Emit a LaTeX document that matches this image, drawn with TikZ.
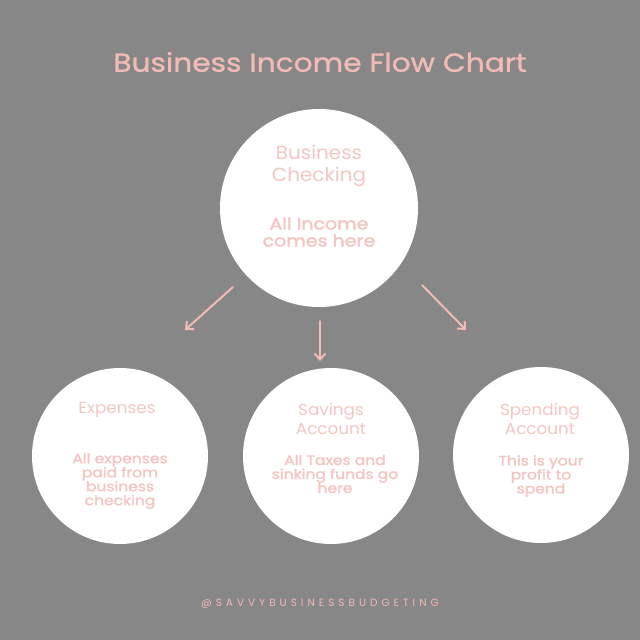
\documentclass[tikz,border=0pt]{standalone}
\usepackage{fontspec}
\setmainfont{Poppins}
\newfontfamily\titlefont[FakeStretch=1.14, FakeBold=1]{Poppins}
\newfontfamily\headfont[FakeStretch=1.05]{Poppins}
\newfontfamily\descfont[FakeStretch=1.15, FakeBold=2]{Poppins}
\usetikzlibrary{arrows.meta}
\definecolor{bggrey}{HTML}{878787}
\definecolor{blush}{HTML}{F2BBB6}
\definecolor{blushlight}{HTML}{F3C6C2}
\begin{document}
\begin{tikzpicture}[x=1pt,y=-1pt]
\tikzstyle{every node}+=[inner sep=0pt]
\tikzstyle{acct}=[circle, fill=white, minimum size=176pt]
\tikzstyle{bighead}=[text=blushlight, align=center, font=\headfont\fontsize{19}{22}\selectfont]
\tikzstyle{bigdesc}=[text=blushlight, align=center, font=\descfont\fontsize{16.5}{17}\selectfont]
\tikzstyle{head}=[text=blushlight, align=center, font=\headfont\fontsize{16}{19}\selectfont]
\tikzstyle{desc}=[text=blushlight, align=center, font=\descfont\fontsize{13.5}{14}\selectfont]
\tikzstyle{flow}=[draw=blush, line width=2pt, line cap=round, -{Straight Barb[length=6pt,width=11pt]}]
\fill [bggrey] (0,0) rectangle (640,640);
\node (title) at (320,62) [text=blush, font=\titlefont\fontsize{26}{30}\selectfont] {Business Income Flow Chart};
% accounts
\node [acct, minimum size=198pt] (checking) at (319,208) {};
\node [acct] (expenses) at (120,456) {};
\node [acct] (savings) at (331,456) {};
\node [acct] (spending) at (541,455) {};
% texts
\node [bighead] (checkinghead) at (319,166) {Business\\Checking};
\node [bigdesc] (checkingdesc) at (319,232) {All Income\\comes here};
\node [head] (expenseshead) at (117,410) {Expenses};
\node [desc] (expensesdesc) at (120,481) {All expenses\\paid from\\business\\checking};
\node [head] (savingshead) at (331,419) {Savings\\Account};
\node [desc] (savingsdesc) at (335,474) {All Taxes and\\sinking funds go\\here};
\node [head] (spendinghead) at (540,419) {Spending\\Account};
\node [desc] (spendingdesc) at (541,476) {This is your\\profit to\\spend};
% arrows
\coordinate (lefttail) at (233,287);
\coordinate (lefttip) at (185,330);
\coordinate (midtail) at (320,321);
\coordinate (midtip) at (320,361);
\coordinate (righttail) at (422,285);
\coordinate (righttip) at (466,330);
\draw [flow] (lefttail) -- (lefttip);
\draw [flow] (midtail) -- (midtip);
\draw [flow] (righttail) -- (righttip);
\node (handle) at (320,604) [text=blush, font=\addfontfeature{LetterSpace=38}\fontsize{10.5}{12}\selectfont] {@SAVVYBUSINESSBUDGETING};
\end{tikzpicture}
\end{document}
